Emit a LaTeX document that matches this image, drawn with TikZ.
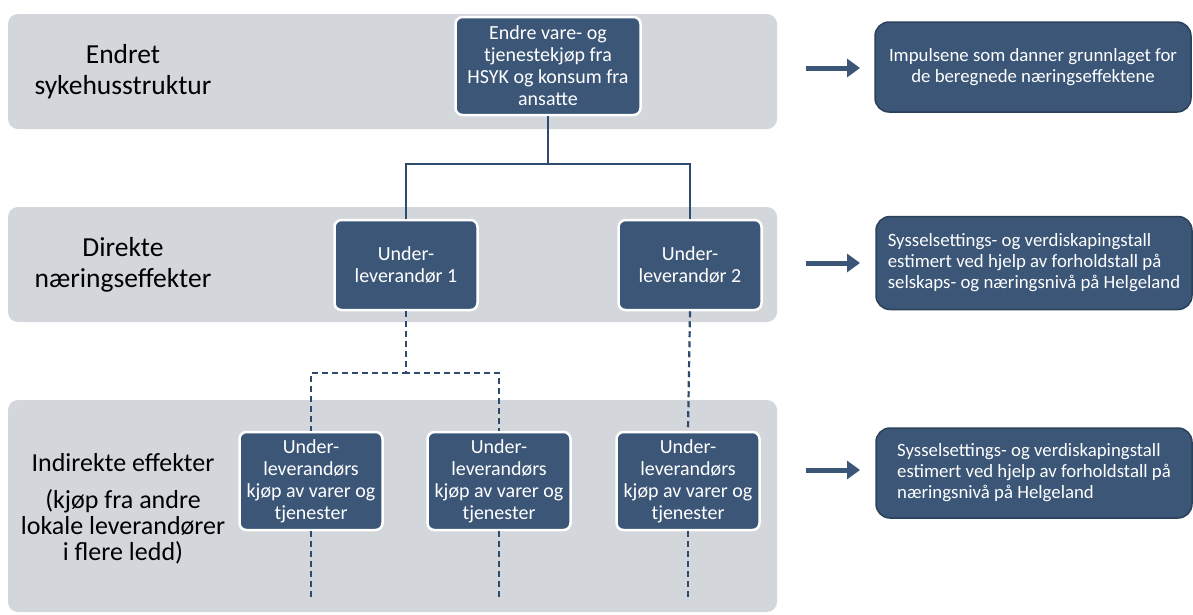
\documentclass[tikz,border=0pt]{standalone}
\usepackage{fontspec}
\setmainfont{Carlito}
\usetikzlibrary{arrows.meta, positioning, calc}
\definecolor{bandgray}{HTML}{D3D6DB}
\definecolor{boxblue}{HTML}{3B5677}
\definecolor{boxedge}{HTML}{2B4059}
\definecolor{linkblue}{HTML}{2E4A6D}

\begin{document}
\begin{tikzpicture}[x=1pt, y=-1pt, >=Stealth,
  band/.style={fill=bandgray, rounded corners=10pt},
  lvl/.style={font=\fontsize{27.5}{31}\selectfont, text=black, align=center},
  blk/.style={draw=white, line width=2.5pt, fill=boxblue, rounded corners=7pt, text=white, align=center, font=\fontsize{20}{22}\selectfont, inner sep=2pt},
  note/.style={draw=boxedge, line width=1.5pt, fill=boxblue, rounded corners=14pt, text=white, font=\fontsize{18.8}{21}\selectfont, minimum width=316pt},
  link/.style={draw=linkblue, line width=2.2pt},
  dlink/.style={link, dash pattern=on 6pt off 4pt},
  bigarrow/.style={draw=boxblue, line width=5pt, -{Triangle[length=13pt,width=18pt]}}]

\useasboundingbox (0,0) rectangle (1193,614);

% Grey bands
\fill[band] (8,14) rectangle (777,129);
\fill[band] (8,207) rectangle (777,322);
\fill[band] (8,400) rectangle (777,612);

% Band labels
\node[lvl] (lvl1) at (123,72) {Endret\\sykehusstruktur};
\node[lvl] (lvl2) at (123,265) {Direkte\\næringseffekter};
\node[lvl, font=\fontsize{26}{26}\selectfont] (lvl3) at (123,509) {Indirekte effekter\\[11pt](kjøp fra andre\\lokale leverandører\\i flere ledd)};

% Impulse box
\node[blk, minimum width=185pt, minimum height=98pt] (impulse) at (548,66) {Endre vare- og\\tjenestekjøp fra\\HSYK og konsum fra\\ansatte};

% Direct suppliers
\node[blk, minimum width=143pt, minimum height=90pt] (ul1) at (406,265) {Under-\\leverandør 1};
\node[blk, minimum width=143pt, minimum height=90pt] (ul2) at (690,265) {Under-\\leverandør 2};

% Indirect purchases
\node[blk, minimum width=143pt, minimum height=98pt] (kA) at (311,481) {Under-\\leverandørs\\kjøp av varer og\\tjenester};
\node[blk, minimum width=143pt, minimum height=98pt] (kB) at (499,481) {Under-\\leverandørs\\kjøp av varer og\\tjenester};
\node[blk, minimum width=143pt, minimum height=98pt] (kC) at (688,481) {Under-\\leverandørs\\kjøp av varer og\\tjenester};

% Loose ends below
\coordinate (endA) at (311,597);
\coordinate (endB) at (499,597);
\coordinate (endC) at (688,597);

% Connections
\draw[link] (impulse.south) -- ++(0,48) -| (ul1.north);
\draw[link] (impulse.south) -- ++(0,48) -| (ul2.north);
\draw[dlink] (ul1.south) -- ++(0,62) -| (kA.north);
\draw[dlink] (ul1.south) -- ++(0,62) -| (kB.north);
\draw[dlink] (ul2.south) -- (kC.north);
\draw[dlink] (kA.south) -- (endA);
\draw[dlink] (kB.south) -- (endB);
\draw[dlink] (kC.south) -- (endC);

% Notes on the right
\node[note, minimum height=90pt, align=center] (n1) at (1033,67) {Impulsene som danner grunnlaget for\\de beregnede næringseffektene};
\node[note, minimum height=93pt, align=left] (n2) at (1034,263) {Sysselsettings- og verdiskapingstall\\estimert ved hjelp av forholdstall på\\selskaps- og næringsnivå på Helgeland};
\node[note, minimum height=90pt, align=left] (n3) at (1034,473) {Sysselsettings- og verdiskapingstall\\estimert ved hjelp av forholdstall på\\næringsnivå på Helgeland};

% Arrows
\coordinate (a1) at (806,68);
\coordinate (a2) at (806,263);
\coordinate (a3) at (806,470);
\draw[bigarrow] (a1) -- ++(54,0);
\draw[bigarrow] (a2) -- ++(54,0);
\draw[bigarrow] (a3) -- ++(54,0);

\end{tikzpicture}
\end{document}
